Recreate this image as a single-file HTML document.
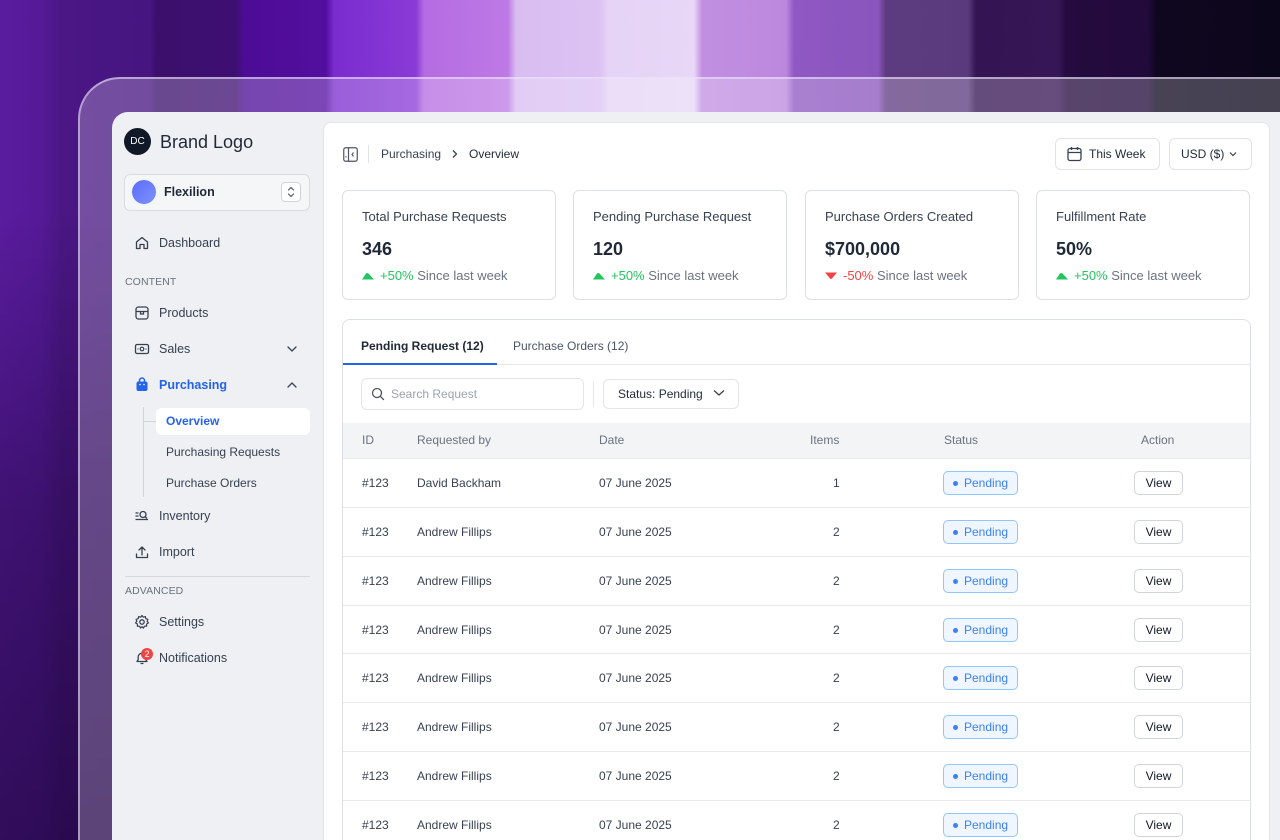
<!DOCTYPE html>
<html><head><meta charset="utf-8">
<style>
*{box-sizing:border-box;margin:0;padding:0}
html,body{width:1280px;height:840px;overflow:hidden}
body{position:relative;font-family:"Liberation Sans",Arial,sans-serif;color:#1f2937;
background:
linear-gradient(180deg,rgba(10,0,25,0) 0,rgba(10,0,25,0) 25%,rgba(15,0,35,0.35) 60%,rgba(15,0,35,0.55) 100%),
linear-gradient(90deg,#5a1c9e 0,#551a98 40px,#4a1784 62px,#461580 150px,#3c0f6c 156px,#3e0f72 236px,#4c0c96 244px,#530e9e 326px,#7a2ccf 334px,#8a3ad6 416px,#b56be2 424px,#bd7ae5 508px,#d9bdf2 516px,#dcc3f3 600px,#e6d3f6 608px,#e8d7f7 694px,#c18fe2 702px,#bb88dd 786px,#8f58c3 794px,#8a55bd 878px,#5d3b7f 886px,#5a3a7c 968px,#341453 976px,#371656 1058px,#250b3f 1066px,#220a3b 1148px,#0f0720 1156px,#0c061a 1280px);}
.frame{position:absolute;left:78px;top:77px;width:1240px;height:800px;border-radius:42px 0 0 0;border-left:2px solid rgba(235,225,250,0.55);border-top:2px solid rgba(235,225,250,0.6);background:rgba(255,255,255,0.24)}
.app{position:absolute;left:112px;top:112px;width:1168px;height:728px;background:#eef0f3;border-radius:16px 0 0 0}
.abs{position:absolute}
.t{position:absolute;white-space:nowrap;line-height:1}
.nav{font-size:12.5px;color:#374151}
.sec{font-size:10.5px;color:#6b7280;letter-spacing:0.1px}
.main{position:absolute;left:323px;top:122px;width:947px;height:740px;background:#fff;border-radius:8px;border:1px solid #e3e5e9}
.card{position:absolute;top:190px;width:214px;height:110px;border:1px solid #dcdfe4;border-radius:6px;background:#fff}
.card .ti{position:absolute;left:19px;top:18px;font-size:13px;color:#374151;white-space:nowrap}
.card .va{position:absolute;left:19px;top:48px;font-size:18px;font-weight:700;color:#1f2937;white-space:nowrap}
.card .ch{position:absolute;left:19px;top:77px;font-size:13px;color:#6b7280;white-space:nowrap}
.card .ch svg{vertical-align:middle;margin-right:6px;position:relative;top:-1px}
.g{color:#22c55e}.r{color:#ef4444}
.row{position:absolute;left:343px;width:907px;height:49px;border-top:1px solid #e7e9ed;font-size:12px;color:#374151}
.row span{position:absolute;top:18px;white-space:nowrap;line-height:1}
.badge{position:absolute;left:600px;top:12px;width:75px;height:24px;border:1px solid #93c5fd;background:#eff6ff;border-radius:5px;color:#3b82f6;font-size:12px}
.badge i{position:absolute;left:9px;top:9px;width:5px;height:5px;border-radius:50%;background:#3b82f6}
.badge b{position:absolute;left:20px;top:5px;font-weight:400;line-height:1.1}
.view{position:absolute;left:791px;top:12px;width:49px;height:24px;border:1px solid #d1d5db;border-radius:5px;background:#fff;font-size:12px;color:#111827;text-align:center;line-height:22px}
</style></head><body>
<div class="frame"></div>
<div class="app"></div>

<!-- Sidebar -->
<div class="abs" style="left:124px;top:128px;width:27px;height:27px;border-radius:50%;background:#111827;color:#fff;font-size:10px;text-align:center;line-height:27px">DC</div>
<div class="t" style="left:160px;top:133px;font-size:18px;color:#1f2937;font-weight:500">Brand Logo</div>

<div class="abs" style="left:124px;top:174px;width:186px;height:37px;border:1px solid #d8dbe0;border-radius:6px;background:#f5f6f8"></div>
<div class="abs" style="left:132px;top:180px;width:24px;height:24px;border-radius:50%;background:linear-gradient(135deg,#5b6cff,#7d92ff)"></div>
<div class="t" style="left:164px;top:186px;font-size:12.5px;font-weight:700;color:#1f2937">Flexilion</div>
<div class="abs" style="left:281px;top:182px;width:20px;height:20px;border:1px solid #d1d5db;border-radius:4px;background:#fff"></div>
<svg class="abs" style="left:286px;top:185px" width="10" height="14" viewBox="0 0 10 14"><path d="M2.5 5 L5 2.5 L7.5 5 M2.5 9 L5 11.5 L7.5 9" fill="none" stroke="#4b5563" stroke-width="1.2" stroke-linecap="round" stroke-linejoin="round"/></svg>

<!-- Dashboard -->
<svg class="abs" style="left:134px;top:235px" width="16" height="16" viewBox="0 0 16 16"><path d="M2.5 7 L8 2.5 L13.5 7 V13.5 H10 V9.5 H6 V13.5 H2.5 Z" fill="none" stroke="#374151" stroke-width="1.3" stroke-linejoin="round"/></svg>
<div class="t nav" style="left:159px;top:237px">Dashboard</div>
<div class="t sec" style="left:125px;top:277px">CONTENT</div>
<!-- Products -->
<svg class="abs" style="left:134px;top:305px" width="16" height="16" viewBox="0 0 16 16"><rect x="2" y="2" width="12" height="12" rx="2.5" fill="none" stroke="#374151" stroke-width="1.3"/><path d="M2 6.5 H14 M6.5 6.5 V9 H9.5 V6.5" fill="none" stroke="#374151" stroke-width="1.3"/></svg>
<div class="t nav" style="left:159px;top:307px">Products</div>
<!-- Sales -->
<svg class="abs" style="left:134px;top:342px" width="16" height="14" viewBox="0 0 16 14"><rect x="1.5" y="2.5" width="13" height="9" rx="1.5" fill="none" stroke="#374151" stroke-width="1.3"/><circle cx="8" cy="7" r="1.8" fill="none" stroke="#374151" stroke-width="1.2"/><circle cx="4" cy="7" r="0.6" fill="#374151"/><circle cx="12" cy="7" r="0.6" fill="#374151"/></svg>
<div class="t nav" style="left:159px;top:343px">Sales</div>
<svg class="abs" style="left:286px;top:344px" width="12" height="10" viewBox="0 0 12 10"><path d="M2 3 L6 7 L10 3" fill="none" stroke="#374151" stroke-width="1.3" stroke-linecap="round"/></svg>
<!-- Purchasing -->
<svg class="abs" style="left:135px;top:376px" width="14" height="16" viewBox="0 0 14 16"><path d="M4.5 6 V4.5 a2.5 2.5 0 0 1 5 0 V6" fill="none" stroke="#2563eb" stroke-width="1.5"/><rect x="1.5" y="5.5" width="11" height="9.5" rx="2" fill="#2563eb"/><circle cx="5" cy="8.5" r="0.8" fill="#fff"/><circle cx="9" cy="8.5" r="0.8" fill="#fff"/></svg>
<div class="t nav" style="left:159px;top:379px;color:#2563eb;font-weight:700">Purchasing</div>
<svg class="abs" style="left:286px;top:380px" width="12" height="10" viewBox="0 0 12 10"><path d="M2 7 L6 3 L10 7" fill="none" stroke="#374151" stroke-width="1.3" stroke-linecap="round"/></svg>
<!-- submenu -->
<div class="abs" style="left:143px;top:407px;width:1px;height:90px;background:#cfd3d9"></div>
<div class="abs" style="left:143px;top:421px;width:13px;height:1px;background:#cfd3d9"></div>
<div class="abs" style="left:156px;top:408px;width:154px;height:27px;background:#fff;border-radius:6px"></div>
<div class="t" style="left:166px;top:415px;font-size:12px;color:#2563eb;font-weight:700">Overview</div>
<div class="t" style="left:166px;top:446px;font-size:12px;color:#374151">Purchasing Requests</div>
<div class="t" style="left:166px;top:477px;font-size:12px;color:#374151">Purchase Orders</div>
<!-- Inventory -->
<svg class="abs" style="left:134px;top:509px" width="16" height="14" viewBox="0 0 16 14"><path d="M1.5 4 H4.5 M1.5 7 H4.5 M1.5 10.5 H14" fill="none" stroke="#374151" stroke-width="1.3"/><circle cx="9" cy="5.5" r="3" fill="none" stroke="#374151" stroke-width="1.3"/><path d="M11.2 7.7 L13 9.5" stroke="#374151" stroke-width="1.3"/></svg>
<div class="t nav" style="left:159px;top:510px">Inventory</div>
<!-- Import -->
<svg class="abs" style="left:134px;top:544px" width="16" height="16" viewBox="0 0 16 16"><path d="M8 11 V3 M5 6 L8 3 L11 6 M2.5 10 V13.5 H13.5 V10" fill="none" stroke="#374151" stroke-width="1.3" stroke-linecap="round" stroke-linejoin="round"/></svg>
<div class="t nav" style="left:159px;top:546px">Import</div>
<div class="abs" style="left:125px;top:576px;width:185px;height:1px;background:#d5d8dd"></div>
<div class="t sec" style="left:125px;top:586px">ADVANCED</div>
<!-- Settings -->
<svg class="abs" style="left:134px;top:614px" width="16" height="16" viewBox="0 0 16 16"><circle cx="8" cy="8" r="2.2" fill="none" stroke="#374151" stroke-width="1.3"/><path d="M8 1.5 L9.3 3.2 L11.4 2.6 L11.8 4.7 L13.9 5.3 L13.1 7.3 L14.5 8.9 L12.6 10 L12.6 12.2 L10.5 12.2 L9.4 14.1 L8 12.6 L6.6 14.1 L5.5 12.2 L3.4 12.2 L3.4 10 L1.5 8.9 L2.9 7.3 L2.1 5.3 L4.2 4.7 L4.6 2.6 L6.7 3.2 Z" fill="none" stroke="#374151" stroke-width="1.2" stroke-linejoin="round"/></svg>
<div class="t nav" style="left:159px;top:616px">Settings</div>
<!-- Notifications -->
<svg class="abs" style="left:134px;top:650px" width="16" height="16" viewBox="0 0 16 16"><path d="M3 11.5 H13 L11.8 9.5 V7 a3.8 3.8 0 0 0 -7.6 0 V9.5 Z M6.5 13.5 H9.5" fill="none" stroke="#374151" stroke-width="1.3" stroke-linejoin="round"/></svg>
<div class="abs" style="left:141px;top:648px;width:12px;height:12px;border-radius:50%;background:#ef4444;color:#fff;font-size:9px;text-align:center;line-height:12px">2</div>
<div class="t nav" style="left:159px;top:652px">Notifications</div>

<!-- Main panel -->
<div class="main"></div>
<svg class="abs" style="left:343px;top:147px" width="15" height="15" viewBox="0 0 15 15"><rect x="0.75" y="0.75" width="13.5" height="13.5" rx="2" fill="none" stroke="#4b5563" stroke-width="1.2"/><path d="M5.5 1 V14" stroke="#4b5563" stroke-width="1.2"/><path d="M10.5 5.5 L9 7.5 L10.5 9.5" fill="none" stroke="#4b5563" stroke-width="1.1"/><path d="M3 9 V10.5" stroke="#4b5563" stroke-width="1"/></svg>
<div class="abs" style="left:368px;top:145px;width:1px;height:18px;background:#e1e3e7"></div>
<div class="t" style="left:381px;top:148px;font-size:12px;color:#374151">Purchasing</div>
<svg class="abs" style="left:451px;top:149px" width="8" height="10" viewBox="0 0 8 10"><path d="M2 1.5 L5.5 5 L2 8.5" fill="none" stroke="#374151" stroke-width="1.3"/></svg>
<div class="t" style="left:469px;top:148px;font-size:12px;color:#1f2937">Overview</div>

<div class="abs" style="left:1055px;top:138px;width:105px;height:32px;border:1px solid #e1e3e7;border-radius:6px;background:#fff"></div>
<svg class="abs" style="left:1067px;top:146px" width="15" height="16" viewBox="0 0 15 16"><rect x="1" y="2.5" width="13" height="12" rx="2" fill="none" stroke="#374151" stroke-width="1.3"/><path d="M1 6.5 H14 M4.5 1 V4 M10.5 1 V4" stroke="#374151" stroke-width="1.3"/></svg>
<div class="t" style="left:1089px;top:148px;font-size:12px;color:#1f2937">This Week</div>
<div class="abs" style="left:1169px;top:138px;width:83px;height:32px;border:1px solid #e1e3e7;border-radius:6px;background:#fff"></div>
<div class="t" style="left:1181px;top:148px;font-size:12px;color:#1f2937">USD ($)</div>
<svg class="abs" style="left:1228px;top:150px" width="10" height="8" viewBox="0 0 10 8"><path d="M2 2.5 L5 5.5 L8 2.5" fill="none" stroke="#374151" stroke-width="1.2"/></svg>

<!-- Cards -->
<div class="card" style="left:342px"><div class="ti">Total Purchase Requests</div><div class="va">346</div><div class="ch"><svg width="12" height="8" viewBox="0 0 12 8"><path d="M0 7.5 L4 1.5 Q5 0.5 6.5 1.5 L12 7.5 Z" fill="#22c55e"/></svg><span class="g">+50%</span> Since last week</div></div>
<div class="card" style="left:573px"><div class="ti">Pending Purchase Request</div><div class="va">120</div><div class="ch"><svg width="12" height="8" viewBox="0 0 12 8"><path d="M0 7.5 L4 1.5 Q5 0.5 6.5 1.5 L12 7.5 Z" fill="#22c55e"/></svg><span class="g">+50%</span> Since last week</div></div>
<div class="card" style="left:805px"><div class="ti">Purchase Orders Created</div><div class="va">$700,000</div><div class="ch"><svg width="12" height="8" viewBox="0 0 12 8"><path d="M0 0.5 L12 0.5 L7 6.5 Q6 7.5 5 6.5 Z" fill="#ef4444"/></svg><span class="r">-50%</span> Since last week</div></div>
<div class="card" style="left:1036px"><div class="ti">Fulfillment Rate</div><div class="va">50%</div><div class="ch"><svg width="12" height="8" viewBox="0 0 12 8"><path d="M0 7.5 L4 1.5 Q5 0.5 6.5 1.5 L12 7.5 Z" fill="#22c55e"/></svg><span class="g">+50%</span> Since last week</div></div>

<!-- Table card -->
<div class="abs" style="left:342px;top:319px;width:909px;height:540px;border:1px solid #dcdfe4;border-radius:8px;background:#fff"></div>
<div class="t" style="left:361px;top:340px;font-size:12px;font-weight:700;color:#1f2937">Pending Request (12)</div>
<div class="t" style="left:513px;top:340px;font-size:12px;color:#4b5563">Purchase Orders (12)</div>
<div class="abs" style="left:343px;top:364px;width:907px;height:1px;background:#e5e7eb"></div>
<div class="abs" style="left:343px;top:363px;width:154px;height:2px;background:#2563eb"></div>

<div class="abs" style="left:361px;top:378px;width:223px;height:32px;border:1px solid #e3e5e9;border-radius:6px"></div>
<svg class="abs" style="left:371px;top:387px" width="14" height="14" viewBox="0 0 14 14"><circle cx="6" cy="6" r="4.5" fill="none" stroke="#4b5563" stroke-width="1.3"/><path d="M9.3 9.3 L12.5 12.5" stroke="#4b5563" stroke-width="1.3" stroke-linecap="round"/></svg>
<div class="t" style="left:391px;top:388px;font-size:12px;color:#9ca3af">Search Request</div>
<div class="abs" style="left:593px;top:381px;width:1px;height:26px;background:#e5e7eb"></div>
<div class="abs" style="left:603px;top:379px;width:136px;height:30px;border:1px solid #e3e5e9;border-radius:6px"></div>
<div class="t" style="left:618px;top:388px;font-size:12px;color:#1f2937">Status: Pending</div>
<svg class="abs" style="left:712px;top:388px" width="14" height="10" viewBox="0 0 14 10"><path d="M2 2.5 L7 7 L12 2.5" fill="none" stroke="#374151" stroke-width="1.3"/></svg>

<div class="abs" style="left:343px;top:423px;width:907px;height:35px;background:#f3f4f6"></div>
<div class="t" style="left:362px;top:434px;font-size:12px;color:#6b7280">ID</div>
<div class="t" style="left:417px;top:434px;font-size:12px;color:#6b7280">Requested by</div>
<div class="t" style="left:599px;top:434px;font-size:12px;color:#6b7280">Date</div>
<div class="t" style="left:810px;top:434px;font-size:12px;color:#6b7280">Items</div>
<div class="t" style="left:944px;top:434px;font-size:12px;color:#6b7280">Status</div>
<div class="t" style="left:1141px;top:434px;font-size:12px;color:#6b7280">Action</div>

<div class="row" style="top:458px"><span style="left:19px">#123</span><span style="left:74px">David Backham</span><span style="left:256px">07 June 2025</span><span style="left:490px">1</span><div class="badge"><i></i><b>Pending</b></div><div class="view">View</div></div>
<div class="row" style="top:507px"><span style="left:19px">#123</span><span style="left:74px">Andrew Fillips</span><span style="left:256px">07 June 2025</span><span style="left:490px">2</span><div class="badge"><i></i><b>Pending</b></div><div class="view">View</div></div>
<div class="row" style="top:556px"><span style="left:19px">#123</span><span style="left:74px">Andrew Fillips</span><span style="left:256px">07 June 2025</span><span style="left:490px">2</span><div class="badge"><i></i><b>Pending</b></div><div class="view">View</div></div>
<div class="row" style="top:605px"><span style="left:19px">#123</span><span style="left:74px">Andrew Fillips</span><span style="left:256px">07 June 2025</span><span style="left:490px">2</span><div class="badge"><i></i><b>Pending</b></div><div class="view">View</div></div>
<div class="row" style="top:653px"><span style="left:19px">#123</span><span style="left:74px">Andrew Fillips</span><span style="left:256px">07 June 2025</span><span style="left:490px">2</span><div class="badge"><i></i><b>Pending</b></div><div class="view">View</div></div>
<div class="row" style="top:702px"><span style="left:19px">#123</span><span style="left:74px">Andrew Fillips</span><span style="left:256px">07 June 2025</span><span style="left:490px">2</span><div class="badge"><i></i><b>Pending</b></div><div class="view">View</div></div>
<div class="row" style="top:751px"><span style="left:19px">#123</span><span style="left:74px">Andrew Fillips</span><span style="left:256px">07 June 2025</span><span style="left:490px">2</span><div class="badge"><i></i><b>Pending</b></div><div class="view">View</div></div>
<div class="row" style="top:800px"><span style="left:19px">#123</span><span style="left:74px">Andrew Fillips</span><span style="left:256px">07 June 2025</span><span style="left:490px">2</span><div class="badge"><i></i><b>Pending</b></div><div class="view">View</div></div>
</body></html>
